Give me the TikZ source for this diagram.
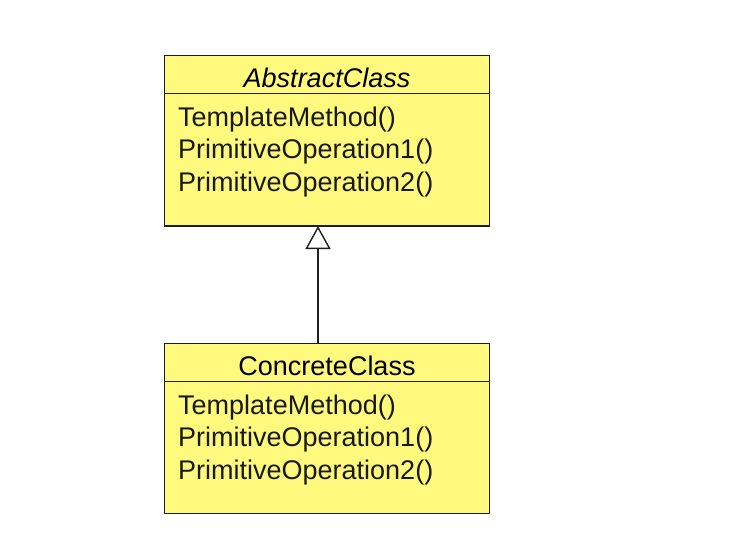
\documentclass[tikz,border=0pt]{standalone}
\usepackage{fontspec}
\setmainfont{Liberation Sans}
\usetikzlibrary{arrows.meta,positioning}

\definecolor{classyellow}{RGB}{255,250,125}
\definecolor{classline}{RGB}{30,30,30}

\begin{document}
\begin{tikzpicture}[x=1pt, y=1pt,
    classhead/.style={draw=classline, fill=classyellow, line width=1.2pt,
        outer sep=0pt, inner sep=0pt, minimum width=325pt, minimum height=38pt,
        text height=32pt, text depth=6pt, font=\fontsize{27}{33.5}\selectfont},
    classbody/.style={draw=classline, fill=classyellow, line width=1.2pt,
        outer sep=0pt, inner sep=0pt, minimum width=325pt, minimum height=132.5pt},
    oplist/.style={align=left, inner sep=0pt, text=black!90,
        font=\fontsize{27}{32.5}\selectfont}]
    \useasboundingbox (0,0) rectangle (737,-560);

    % Abstract class
    \node[classhead] (abshead) at (327,-74.5) {\itshape AbstractClass};
    \node[classbody, below=0pt of abshead] (absbody) {};
    \node[oplist, below right=13pt and 13.5pt of absbody.north west] (absops)
        {TemplateMethod()\\PrimitiveOperation1()\\PrimitiveOperation2()};

    % Concrete class
    \node[classhead] (conchead) at (327,-362.25) {ConcreteClass};
    \node[classbody, below=0pt of conchead] (concbody) {};
    \node[oplist, below right=13pt and 13.5pt of concbody.north west] (concops)
        {TemplateMethod()\\PrimitiveOperation1()\\PrimitiveOperation2()};

    % Generalisation
    \draw[-{Triangle[open, length=23pt, width=25pt]}, line width=1.4pt, classline]
        ([xshift=-9pt]conchead.north) -- ([xshift=-9pt]absbody.south);
\end{tikzpicture}
\end{document}
